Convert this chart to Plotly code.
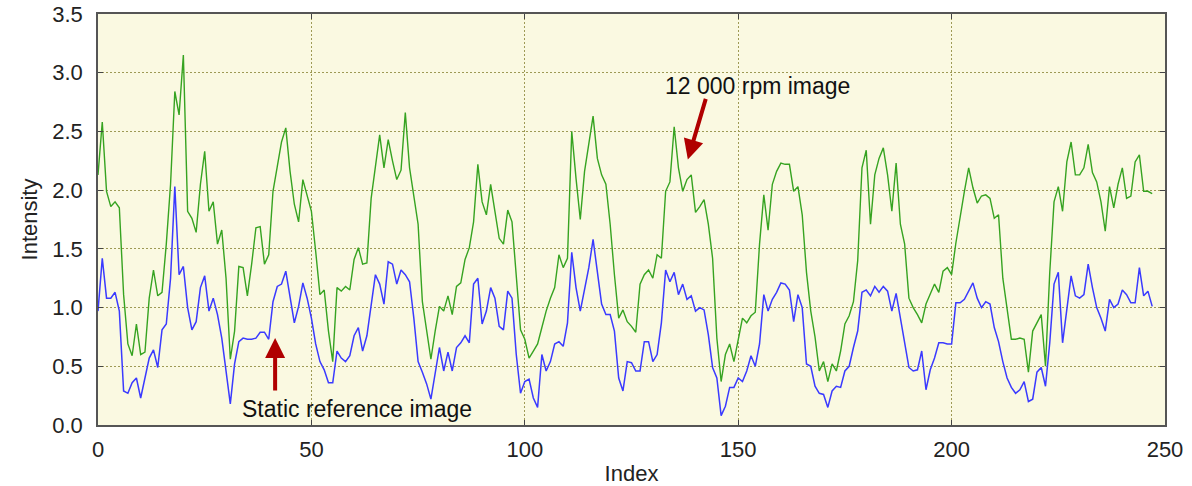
import plotly.graph_objects as go

# Intensity profiles (index 0..247)
green_12000rpm = [
    2.13, 2.58, 1.99, 1.86, 1.90, 1.85, 1.11, 0.69, 0.59, 0.86,
    0.60, 0.62, 1.08, 1.32, 1.10, 1.13, 1.54, 2.05, 2.84, 2.64,
    3.15, 1.82, 1.76, 1.64, 2.05, 2.33, 1.82, 1.90, 1.54, 1.66,
    1.25, 0.56, 0.80, 1.35, 1.34, 1.10, 1.37, 1.68, 1.69, 1.37,
    1.45, 1.99, 2.20, 2.41, 2.53, 2.16, 1.88, 1.73, 2.09, 1.95,
    1.82, 1.48, 1.11, 1.15, 0.80, 0.54, 1.17, 1.14, 1.18, 1.15,
    1.41, 1.51, 1.37, 1.38, 1.93, 2.20, 2.47, 2.19, 2.43, 2.25,
    2.09, 2.17, 2.66, 2.19, 1.93, 1.71, 1.05, 0.80, 0.56, 0.80,
    1.01, 0.97, 1.10, 0.94, 1.18, 1.21, 1.41, 1.51, 1.73, 2.22,
    1.90, 1.79, 2.05, 1.82, 1.59, 1.54, 1.83, 1.73, 1.25, 0.81,
    0.73, 0.57, 0.63, 0.69, 0.83, 0.97, 1.08, 1.17, 1.45, 1.34,
    1.42, 2.50, 2.10, 1.75, 2.16, 2.41, 2.63, 2.27, 2.13, 2.05,
    1.71, 1.28, 0.91, 0.98, 0.88, 0.84, 0.79, 1.20, 1.28, 1.32,
    1.25, 1.45, 1.42, 1.99, 2.07, 2.54, 2.19, 1.99, 2.09, 2.13,
    1.81, 1.86, 1.92, 1.71, 1.42, 0.74, 0.37, 0.60, 0.69, 0.54,
    0.73, 0.91, 0.87, 0.93, 0.96, 1.54, 1.96, 1.66, 2.05, 2.16,
    2.23, 2.22, 2.22, 1.99, 2.03, 1.79, 1.30, 0.97, 0.75, 0.46,
    0.54, 0.37, 0.52, 0.46, 0.63, 0.86, 0.93, 1.05, 1.40, 2.19,
    2.34, 1.71, 2.13, 2.27, 2.36, 2.13, 1.82, 2.23, 1.71, 1.54,
    1.08, 1.00, 0.94, 0.87, 1.03, 1.11, 1.20, 1.13, 1.31, 1.34,
    1.28, 1.55, 1.79, 1.99, 2.19, 2.02, 1.89, 1.95, 1.96, 1.93,
    1.76, 1.79, 1.25, 0.97, 0.73, 0.73, 0.74, 0.73, 0.45, 0.80,
    0.87, 0.94, 0.50, 1.30, 1.90, 2.03, 1.82, 2.24, 2.41, 2.13,
    2.13, 2.19, 2.39, 2.15, 2.07, 1.90, 1.65, 2.03, 1.85, 2.05,
    2.19, 1.93, 1.95, 2.24, 2.30, 1.99, 1.99, 1.97,
]

blue_static = [
    0.97, 1.42, 1.08, 1.08, 1.13, 0.97, 0.29, 0.27, 0.36, 0.40,
    0.23, 0.40, 0.57, 0.64, 0.49, 0.81, 0.86, 1.25, 2.03, 1.28,
    1.35, 1.00, 0.81, 0.88, 1.17, 1.27, 0.97, 1.08, 0.94, 0.74,
    0.46, 0.18, 0.52, 0.71, 0.74, 0.73, 0.73, 0.74, 0.79, 0.79,
    0.73, 1.05, 1.18, 1.20, 1.31, 1.08, 0.87, 1.01, 1.21, 1.08,
    0.91, 0.69, 0.54, 0.47, 0.36, 0.36, 0.63, 0.57, 0.54, 0.59,
    0.76, 0.83, 0.63, 0.76, 1.03, 1.28, 1.20, 1.03, 1.39, 1.37,
    1.20, 1.32, 1.28, 1.22, 0.91, 0.54, 0.45, 0.35, 0.22, 0.43,
    0.66, 0.46, 0.62, 0.46, 0.66, 0.70, 0.76, 0.70, 1.20, 1.25,
    0.86, 0.97, 1.17, 1.08, 0.84, 0.81, 1.14, 1.08, 0.60, 0.27,
    0.37, 0.39, 0.23, 0.15, 0.60, 0.46, 0.54, 0.69, 0.71, 0.67,
    0.87, 1.47, 1.17, 0.97, 1.14, 1.34, 1.58, 1.31, 1.03, 0.94,
    0.94, 0.80, 0.40, 0.29, 0.54, 0.53, 0.46, 0.46, 0.71, 0.71,
    0.54, 0.60, 0.87, 1.32, 1.22, 1.30, 1.11, 1.20, 1.07, 1.10,
    0.97, 1.00, 0.98, 0.77, 0.49, 0.40, 0.08, 0.16, 0.32, 0.32,
    0.40, 0.37, 0.46, 0.59, 0.50, 0.69, 1.11, 0.97, 1.07, 1.13,
    1.21, 1.20, 1.15, 0.88, 1.11, 1.00, 0.52, 0.50, 0.33, 0.27,
    0.26, 0.15, 0.29, 0.33, 0.32, 0.46, 0.50, 0.66, 0.80, 1.13,
    1.15, 1.10, 1.18, 1.13, 1.18, 1.14, 0.97, 1.12, 0.91, 0.69,
    0.49, 0.46, 0.47, 0.63, 0.30, 0.47, 0.57, 0.70, 0.70, 0.69,
    0.69, 1.04, 1.04, 1.07, 1.14, 1.21, 1.08, 1.00, 1.05, 1.03,
    0.83, 0.71, 0.54, 0.40, 0.32, 0.27, 0.30, 0.37, 0.20, 0.22,
    0.45, 0.49, 0.33, 0.70, 1.20, 1.30, 0.70, 0.97, 1.27, 1.10,
    1.08, 1.11, 1.37, 1.17, 1.00, 0.91, 0.80, 1.07, 1.00, 1.03,
    1.15, 1.11, 1.04, 1.04, 1.34, 1.10, 1.14, 1.01,
]

index = list(range(len(green_12000rpm)))

x_ticks = [0, 50, 100, 150, 200, 250]
y_ticks = [0.0, 0.5, 1.0, 1.5, 2.0, 2.5, 3.0, 3.5]

FONT = "Liberation Sans, Arial, sans-serif"
ARROW = "#B00000"

fig = go.Figure()
fig.add_trace(go.Scatter(x=index, y=green_12000rpm, mode="lines",
                         line=dict(color="#36A321", width=1.4),
                         name="12 000 rpm image", showlegend=False))
fig.add_trace(go.Scatter(x=index, y=blue_static, mode="lines",
                         line=dict(color="#3A3AFF", width=1.5),
                         name="Static reference image", showlegend=False))

# annotations
fig.add_annotation(x=154.6, y=2.89, text="12 000 rpm image", showarrow=False,
                   font=dict(family=FONT, size=23, color="#111111"))
fig.add_annotation(x=138.2, y=2.26, ax=142.5, ay=2.79, axref="x", ayref="y",
                   text="", showarrow=True, arrowhead=2, arrowsize=1.0,
                   arrowwidth=4, arrowcolor=ARROW)
fig.add_annotation(x=60.7, y=0.14, text="Static reference image", showarrow=False,
                   font=dict(family=FONT, size=23, color="#111111"))
fig.add_annotation(x=41.5, y=0.74, ax=41.5, ay=0.28, axref="x", ayref="y",
                   text="", showarrow=True, arrowhead=2, arrowsize=1.0,
                   arrowwidth=4, arrowcolor=ARROW)

axis_common = dict(
    showline=True, linecolor="#555555", linewidth=1.5, mirror="ticks",
    ticks="inside", ticklen=5, tickcolor="#444444", tickwidth=1,
    showgrid=True, gridcolor="#9E9A55", gridwidth=1, griddash="2px,2px",
    zeroline=False, automargin=False, ticklabeloverflow="allow",
    tickfont=dict(family=FONT, size=22, color="#222222"),
)

fig.update_xaxes(range=[0, 250], tickvals=x_ticks, ticktext=[str(v) for v in x_ticks],
                 title=dict(text="Index", font=dict(family=FONT, size=22, color="#222222"),
                            standoff=5),
                 ticklabelstandoff=4, **axis_common)
fig.update_yaxes(range=[0, 3.5], tickvals=y_ticks, ticktext=[f"{v:.1f}" for v in y_ticks],
                 title=dict(text="Intensity", font=dict(family=FONT, size=22, color="#222222"),
                            standoff=9),
                 ticklabelstandoff=9, **axis_common)

fig.update_layout(
    width=1192, height=486,
    margin=dict(l=98, r=27, t=14, b=61),
    plot_bgcolor="#FAF9E1",
    paper_bgcolor="#FFFFFF",
    font=dict(family=FONT),
)

# remove the page's default body margin so the figure fills the window exactly
fig.write_html("out.html",
               config={"displayModeBar": False},
               post_script="document.body.style.margin='0px';document.body.style.overflow='hidden';")
